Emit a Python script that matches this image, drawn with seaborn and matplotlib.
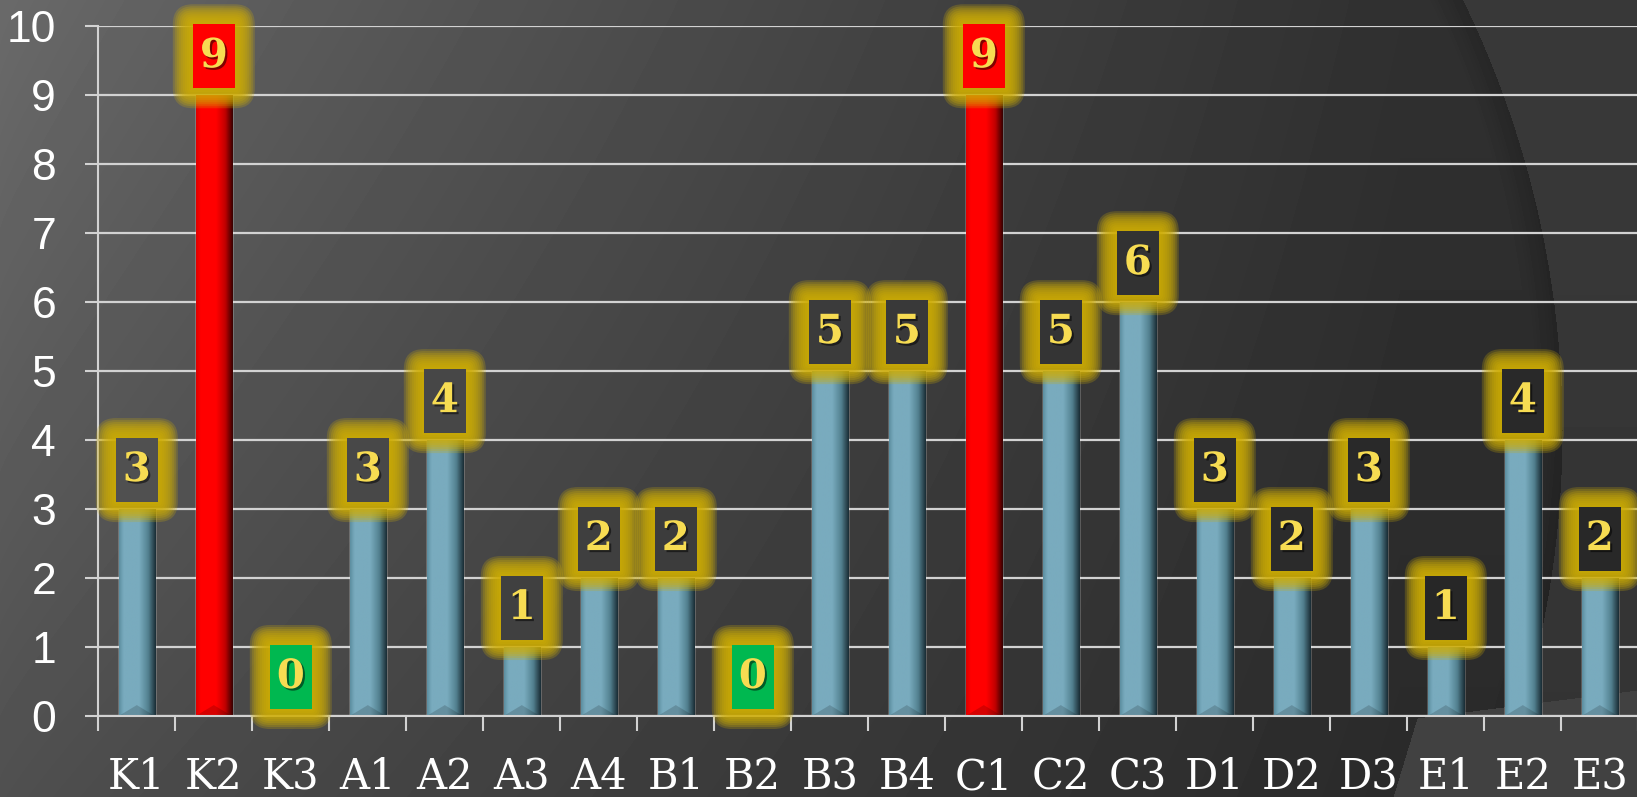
import numpy as np
import matplotlib
matplotlib.use("Agg")
import matplotlib.pyplot as plt
import seaborn as sns
from matplotlib.patches import FancyBboxPatch, Polygon
import matplotlib.patheffects as pe
from matplotlib.colors import LinearSegmentedColormap

# ---------------- data ----------------
categories = ["K1", "K2", "K3", "A1", "A2", "A3", "A4", "B1", "B2", "B3",
              "B4", "C1", "C2", "C3", "D1", "D2", "D3", "E1", "E2", "E3"]
values = [3, 9, 0, 3, 4, 1, 2, 2, 0, 5, 5, 9, 5, 6, 3, 2, 3, 1, 4, 2]
y_ticks = [0, 1, 2, 3, 4, 5, 6, 7, 8, 9, 10]

# ---------------- style ----------------
W, H = 1637, 797
sns.set_theme(style="white")
plt.rcParams["font.family"] = ["Liberation Sans", "DejaVu Sans"]

BLUE = "#77a8bb"
RED = "#ff0000"
GREEN = "#00b850"
GLOW = "#cfae04"
LABEL = "#f7dc52"
GRID = "#d2d2d2"

fig = plt.figure(figsize=(W / 100, H / 100), dpi=100)

# ---------------- background (decor) ----------------
def bg_value(x, y):
    f = np.clip(x / 1400.0, 0, 1) ** 0.85
    a = 106 - 26 * (y / H)
    b = 48 - 6 * (y / H)
    return a + (b - a) * f

yy, xx = np.mgrid[0:H, 0:W].astype(float)
img = bg_value(xx, yy)
cx, cy, R = 581.0, 430.0, 981.0
d = np.hypot(xx - cx, yy - cy)
img = np.where(d > R, img + 9, img)
shadow = (d <= R) & (d > R - 30)
img = np.where(shadow, img - 9 * (1 - (R - d) / 30), img)
# bottom-right lighter wedge
s1 = (yy - 718) * (1637 - 1417) - (690 - 718) * (xx - 1417) > 0
s2 = (xx - 1393) * (718 - 797) - (yy - 797) * (1417 - 1393) < 0
img = np.where(s1 & s2, 66, img)
bg = fig.add_axes([0, 0, 1, 1])
bg.imshow(img, cmap="gray", vmin=0, vmax=255, aspect="auto",
          interpolation="bilinear")
bg.axis("off")

# ---------------- main axes ----------------
left_px, right_px, top_px, bot_px = 98.3, 1638.3, 26.3, 716.0
ax = fig.add_axes([left_px / W, 1 - bot_px / H,
                   (right_px - left_px) / W, (bot_px - top_px) / H])
ax.patch.set_alpha(0)

vmax = max(values)
bar_colors = [RED if v == vmax else BLUE for v in values]
palette = dict(zip(categories, bar_colors))

sns.barplot(x=categories, y=values, hue=categories, palette=palette,
            legend=False, width=0.47, saturation=1, ax=ax, zorder=2)

ax.set_xlim(-0.5, len(categories) - 0.5)
ax.set_ylim(0, 10)

# shading on bars
cm_blue = LinearSegmentedColormap.from_list(
    "b", [(0, "#5d8fa1"), (0.12, "#79abbe"), (0.55, "#79abbe"),
          (0.8, "#52808f"), (1, "#1b2e36")])
cm_red = LinearSegmentedColormap.from_list(
    "r", [(0, "#e00000"), (0.12, "#ff0000"), (0.55, "#ff0000"),
          (0.8, "#c00000"), (1, "#3a0000")])
grad = np.linspace(0, 1, 64).reshape(1, -1)
bevel_h = 11 / 69.6
for p in list(ax.patches):
    h = p.get_height()
    if h <= 0:
        continue
    x0, w = p.get_x(), p.get_width()
    idx = int(round(x0 + w / 2))
    cmap = cm_red if values[idx] == vmax else cm_blue
    ax.imshow(grad, extent=(x0, x0 + w, 0, h), aspect="auto", cmap=cmap,
              zorder=2.1, interpolation="bilinear")
    ax.add_patch(Polygon([(x0, 0), (x0 + w, 0), (x0 + w / 2, bevel_h)],
                         closed=True, fc="black", ec="none", alpha=0.16,
                         zorder=2.2))

ax.set_xlim(-0.5, len(categories) - 0.5)
ax.set_ylim(0, 10)
ax.set_aspect("auto")

# value labels with glow
xpx = (right_px - left_px) / len(categories)
ypx = (bot_px - top_px) / 10
bw, bh = 42 / xpx, 64 / ypx
gap = 7 / ypx
for i, v in enumerate(values):
    bottom = v + gap
    xc = i
    for pp in range(20, 0, -2):
        dx, dy = pp / xpx, pp / ypx
        ax.add_patch(FancyBboxPatch(
            (xc - bw / 2 - dx, bottom - dy), bw + 2 * dx, bh + 2 * dy,
            boxstyle=f"round,pad=0,rounding_size={pp / xpx}",
            mutation_aspect=xpx / ypx, fc=GLOW, ec="none", alpha=0.24,
            zorder=3, clip_on=False))
    if v == vmax:
        fc = RED
    elif v == 0:
        fc = GREEN
    else:
        px, py = ax.transData.transform((xc, bottom + bh / 2))
        g = (bg_value(px, H - py) - 4) / 255.0
        fc = (g, g, g)
    ax.add_patch(FancyBboxPatch((xc - bw / 2, bottom), bw, bh,
                                boxstyle="square,pad=0", fc=fc, ec="none",
                                zorder=4, clip_on=False))
    ax.text(xc, bottom + bh / 2, str(v), ha="center", va="center",
            fontsize=29, fontweight="bold", family="DejaVu Serif",
            color=LABEL, zorder=5, clip_on=False,
            path_effects=[pe.withSimplePatchShadow(offset=(1.5, -1.5),
                                                   shadow_rgbFace="black",
                                                   alpha=0.5)])

# axes styling
ax.set_axisbelow(True)
ax.yaxis.grid(True, color=GRID, lw=1.6)
ax.xaxis.grid(False)
for s in ["top", "right"]:
    ax.spines[s].set_visible(False)
for s in ["left", "bottom"]:
    ax.spines[s].set_color(GRID)
    ax.spines[s].set_linewidth(1.5)

ax.set_yticks(y_ticks)
ax.set_yticklabels([str(t) for t in y_ticks])
ax.set_xticks(range(len(categories)))
ax.set_xticklabels(categories)
ax.set_xticks(np.arange(-0.5, len(categories), 1), minor=True)
ax.tick_params(axis="y", which="major", length=9.4, width=1.5, color=GRID,
               pad=21, labelsize=32, labelcolor="white", left=True)
ax.tick_params(axis="x", which="major", length=0, pad=29, labelsize=30,
               labelcolor="white")
ax.tick_params(axis="x", which="minor", length=11, width=1.5, color=GRID,
               bottom=True)
for t in ax.get_xticklabels():
    t.set_family("DejaVu Serif")
ax.set_xlabel("")
ax.set_ylabel("")

fig.savefig("out.png", dpi=100)
